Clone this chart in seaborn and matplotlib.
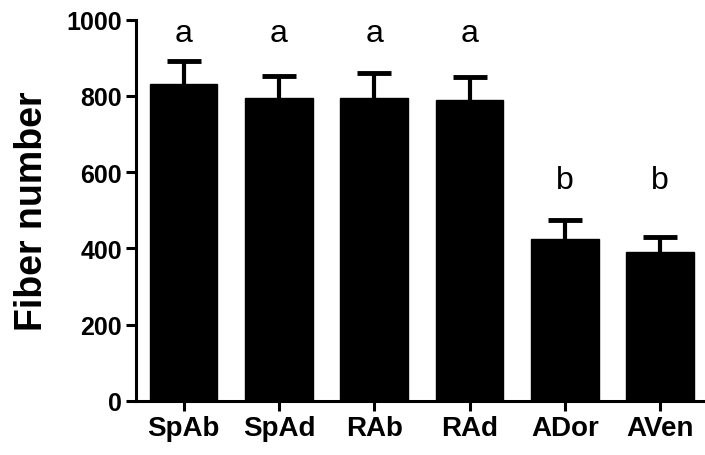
import matplotlib
matplotlib.use("Agg")
import matplotlib.pyplot as plt
import seaborn as sns
import numpy as np
import pandas as pd

categories = ["SpAb", "SpAd", "RAb", "RAd", "ADor", "AVen"]
means = [831, 795, 794, 790, 426, 390]
sem_upper = [61, 58, 67, 59, 50, 41]
letters = ["a", "a", "a", "a", "b", "b"]
letter_y = [965, 965, 965, 965, 580, 580]
yticks = [0, 200, 400, 600, 800, 1000]

sns.set_style("ticks")
plt.rcParams['font.family'] = ['Liberation Sans', 'DejaVu Sans']
plt.rcParams['text.color'] = 'black'
plt.rcParams['axes.labelcolor'] = 'black'
plt.rcParams['xtick.color'] = 'black'
plt.rcParams['ytick.color'] = 'black'

fig = plt.figure(figsize=(7.05, 4.56), dpi=100)
ax = fig.add_axes([136/705, 1 - 402/456, 1 - 136/705, (402 - 20.7)/456])

df = pd.DataFrame({"group": categories, "value": means})
sns.barplot(data=df, x="group", y="value", color="black", edgecolor="black",
            width=0.71, errorbar=None, saturation=1, ax=ax)
for p in ax.patches:
    p.set_zorder(3)

x = np.arange(len(categories))
ax.errorbar(x, means, yerr=sem_upper, fmt="none",
            ecolor="black", elinewidth=3, capsize=12, capthick=3.5, zorder=1,
            clip_on=False)

for xi, (lab, ly) in enumerate(zip(letters, letter_y)):
    ax.text(xi, ly, lab, ha="center", va="center", fontsize=23, color="black")

ax.set_ylim(0, 1000)
ax.set_xlim(-0.5, 5.47)
ax.set_yticks(yticks)
ax.set_yticklabels([str(t) for t in yticks], fontsize=18, fontweight="bold")
ax.set_xticks(x)
ax.set_xticklabels(categories, fontsize=20, fontweight="bold")
ax.set_xlabel("")
ax.set_ylabel("Fiber number", fontsize=27, fontweight="bold", labelpad=12)

for s in ["top", "right"]:
    ax.spines[s].set_visible(False)
for s in ["left", "bottom"]:
    ax.spines[s].set_linewidth(2.2)
    ax.spines[s].set_color("black")
ax.tick_params(axis="both", width=2.2, length=7, color="black", pad=3)

fig.savefig("out.png", dpi=100)
